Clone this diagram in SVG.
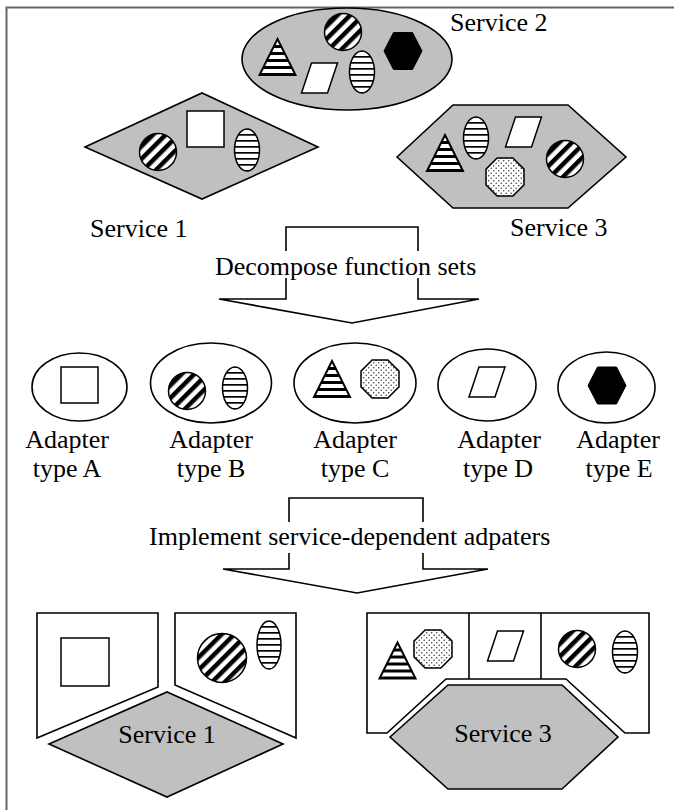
<svg xmlns="http://www.w3.org/2000/svg" xmlns:xlink="http://www.w3.org/1999/xlink" width="674" height="810" viewBox="0 0 674 810">
<style>
.t{font-family:"Liberation Serif","Times New Roman",serif;font-size:26px;fill:#000}
.svc{fill:#c0c0c0;stroke:#000;stroke-width:1.6}
.ad{fill:#fff;stroke:#000;stroke-width:1.6}
.pl{fill:#fff;stroke:#000;stroke-width:1.6}
.dg{fill:url(#diag);stroke:#000;stroke-width:1.5}
.hs{fill:url(#hstripe);stroke:#000;stroke-width:1.5}
.tr{fill:url(#tstripe);stroke:#000;stroke-width:2}
.dt{fill:url(#dots);stroke:#000;stroke-width:1.5}
.wf{fill:#fff;stroke:#000;stroke-width:1.5}
.bk{fill:#000;stroke:#000;stroke-width:1}
.arrow{fill:#fff;stroke:#000;stroke-width:1.6}
</style>
<defs>
<pattern id="diag" patternUnits="userSpaceOnUse" width="9" height="9" patternTransform="rotate(45)">
<rect width="9" height="9" fill="#fff"/><rect width="4.5" height="9" fill="#000"/>
</pattern>
<pattern id="hstripe" patternUnits="userSpaceOnUse" width="6" height="6">
<rect width="6" height="6" fill="#fff"/><rect y="2" width="6" height="1.7" fill="#000"/>
</pattern>
<pattern id="tstripe" patternUnits="userSpaceOnUse" width="7" height="7">
<rect width="7" height="7" fill="#fff"/><rect y="2" width="7" height="3" fill="#000"/>
</pattern>
<pattern id="dots" patternUnits="userSpaceOnUse" width="5" height="5">
<rect width="5" height="5" fill="#fff"/><circle cx="1.2" cy="1.2" r="0.75" fill="#333"/><circle cx="3.7" cy="3.7" r="0.75" fill="#333"/>
</pattern>
<polygon id="oct" class="dt" points="19,-7.9 7.9,-19 -7.9,-19 -19,-7.9 -19,7.9 -7.9,19 7.9,19 19,7.9"/>
<ellipse id="ell" class="hs" rx="12.5" ry="21"/>
<circle id="circ" class="dg" r="18.5"/>
<polygon id="hexb" class="bk" points="-19,0 -9.5,-18.5 9.5,-18.5 19,0 9.5,18.5 -9.5,18.5"/>
<polygon id="tri" class="tr" points="0,-18 18,18 -18,18"/>
<polygon id="para" class="wf" points="-8,-15 18,-15 8,15 -18,15"/>
<rect id="sq" class="wf" x="-18.5" y="-18" width="37" height="36"/>
</defs>

<g id="border" fill="none" stroke="#666" stroke-width="2">
<path d="M6.5,810 V7.5 H674"/>
</g>

<g id="service2">
<ellipse class="svc" cx="347" cy="59" rx="105" ry="51"/>
<use xlink:href="#tri" x="277.5" y="57"/>
<use xlink:href="#circ" x="343" y="32"/>
<use xlink:href="#hexb" x="403" y="51"/>
<use xlink:href="#para" x="319.5" y="78"/>
<use xlink:href="#ell" x="362" y="72"/>
<text class="t" x="450" y="31">Service 2</text>
</g>

<g id="service1">
<polygon class="svc" points="85,147 202,93 318,147 202,199"/>
<use xlink:href="#circ" x="158" y="152"/>
<use xlink:href="#sq" x="205.5" y="129"/>
<use xlink:href="#ell" x="247" y="150"/>
<text class="t" x="90" y="237">Service 1</text>
</g>

<g id="service3">
<polygon class="svc" points="397,157 453,105 568,105 626,157 568,208 453,208"/>
<use xlink:href="#tri" x="445" y="153"/>
<use xlink:href="#ell" x="476" y="138"/>
<use xlink:href="#para" x="523.5" y="132"/>
<use xlink:href="#oct" x="505" y="177"/>
<use xlink:href="#circ" x="565" y="159"/>
<text class="t" x="510" y="236">Service 3</text>
</g>

<g id="connectors">
<g id="arrow-decompose">
<polygon class="arrow" points="286,227 418,227 418,299 479,299 352,323 219,299 286,299"/>
<rect x="212" y="251" width="272" height="27" fill="#fff"/>
<text class="t" x="215" y="275">Decompose function sets</text>
</g>
<g id="arrow-implement">
<polygon class="arrow" points="289,498 423,498 423,569 488,569 357,593 223,569 289,569"/>
<rect x="145" y="522" width="460" height="31" fill="#fff"/>
<text class="t" x="149" y="545">Implement service-dependent adpaters</text>
</g>
</g>

<g id="adapterA">
<ellipse class="ad" cx="79.5" cy="387" rx="47.5" ry="34"/>
<use xlink:href="#sq" x="79.5" y="385"/>
<text class="t" x="67" y="448" text-anchor="middle">Adapter</text>
<text class="t" x="67" y="477" text-anchor="middle">type A</text>
</g>
<g id="adapterB">
<ellipse class="ad" cx="211" cy="383" rx="60.5" ry="40"/>
<use xlink:href="#circ" x="187" y="391"/>
<use xlink:href="#ell" x="235" y="388"/>
<text class="t" x="211" y="448" text-anchor="middle">Adapter</text>
<text class="t" x="211" y="477" text-anchor="middle">type B</text>
</g>
<g id="adapterC">
<ellipse class="ad" cx="355" cy="383" rx="61" ry="40"/>
<use xlink:href="#tri" x="332" y="379"/>
<use xlink:href="#oct" x="380" y="379"/>
<text class="t" x="355" y="448" text-anchor="middle">Adapter</text>
<text class="t" x="355" y="477" text-anchor="middle">type C</text>
</g>
<g id="adapterD">
<ellipse class="ad" cx="487" cy="385" rx="49" ry="36"/>
<use xlink:href="#para" x="487" y="382"/>
<text class="t" x="499" y="448" text-anchor="middle">Adapter</text>
<text class="t" x="498" y="477" text-anchor="middle">type D</text>
</g>
<g id="adapterE">
<ellipse class="ad" cx="606.5" cy="387.5" rx="48.5" ry="35.5"/>
<use xlink:href="#hexb" x="607" y="385.5"/>
<text class="t" x="618" y="448" text-anchor="middle">Adapter</text>
<text class="t" x="619" y="477" text-anchor="middle">type E</text>
</g>

<g id="impl-service1">
<path class="pl" d="M37,613 H158 V687 L37,738 Z"/>
<rect class="wf" x="61" y="638" width="48" height="48"/>
<path class="pl" d="M175,613 H296 V738 L175,685 Z"/>
<circle class="dg" cx="222" cy="658" r="24.5"/>
<ellipse class="hs" cx="269" cy="645" rx="12" ry="24"/>
<polygon class="svc" points="49,744 167,692 283,744 167,797"/>
<text class="t" x="167" y="743" text-anchor="middle">Service 1</text>
</g>

<g id="impl-service3">
<path class="pl" d="M367,613 H649 V733 H625 L566,679 H446 L387,733 H367 Z"/>
<path fill="none" stroke="#000" stroke-width="1.6" d="M469,613 V679 M541,613 V679"/>
<use xlink:href="#tri" x="397.5" y="660.5"/>
<use xlink:href="#oct" x="433" y="649"/>
<use xlink:href="#para" x="505.5" y="646"/>
<use xlink:href="#circ" x="577" y="649"/>
<use xlink:href="#ell" x="625" y="652"/>
<polygon class="svc" points="390,737 448,685 562,685 618,737 562,789 448,789"/>
<text class="t" x="503" y="742" text-anchor="middle">Service 3</text>
</g>
</svg>
